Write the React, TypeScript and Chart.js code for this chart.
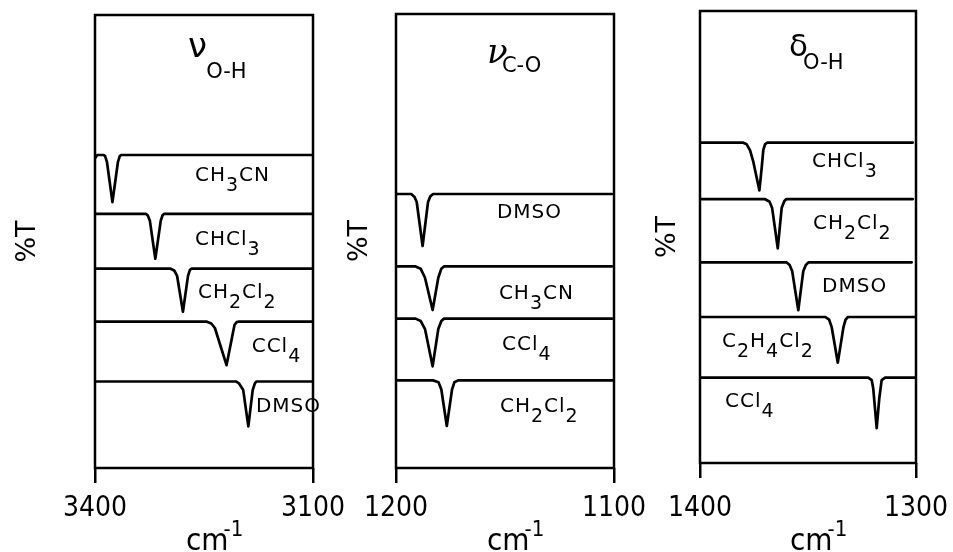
import React, { useEffect, useRef } from 'react';
import { Chart, registerables } from 'chart.js';

Chart.register(...registerables);

// ---------- Panel 1 : ν O-H (3400 → 3100 cm-1) ----------
const P1_TICKS = [3400, 3100];
const P1_CH3CN_X = [3400, 3397, 3388, 3386, 3383.5, 3376, 3368.5, 3366, 3364, 3100];
const P1_CH3CN_Y = [68.4, 69.1, 69.1, 68.8, 67.5, 58.7, 67.5, 68.8, 69.1, 69.1];
const P1_CHCL3_X = [3400, 3330, 3327.5, 3324.5, 3317, 3309.5, 3307, 3305, 3100];
const P1_CHCL3_Y = [56.1, 56.1, 55.8, 54.6, 46.2, 54.6, 55.8, 56.1, 56.1];
const P1_CH2CL2_X = [3400, 3296, 3291, 3287, 3279, 3272, 3269.5, 3267, 3100];
const P1_CH2CL2_Y = [44.0, 44.0, 43.6, 42.4, 34.5, 42.4, 43.7, 44.0, 44.0];
const P1_CCL4_X = [3400, 3246, 3240, 3235, 3219, 3208, 3205, 3203, 3100];
const P1_CCL4_Y = [32.3, 32.3, 31.9, 30.9, 22.7, 31.6, 32.2, 32.3, 32.3];
const P1_DMSO_X = [3400, 3206, 3202, 3196, 3189, 3183, 3180, 3178, 3100];
const P1_DMSO_Y = [19.1, 19.1, 18.7, 17.2, 9.2, 17.2, 18.7, 19.1, 19.1];
const P1_LABELS = ['CH_3CN', 'CHCl_3', 'CH_2Cl_2', 'CCl_4', 'DMSO'];
const P1_LABEL_X = [3262.4, 3262.4, 3258.3, 3184.4, 3178.5];
const P1_LABEL_Y = [63.4, 49.2, 37.6, 25.6, 12.4];

// ---------- Panel 2 : ν C-O (1200 → 1100 cm-1) ----------
const P2_TICKS = [1200, 1100];
const P2_DMSO_X = [1200, 1193, 1191.5, 1190.5, 1187.8, 1185.3, 1184.3, 1183, 1101];
const P2_DMSO_Y = [60.35, 60.35, 59.7, 58.6, 48.9, 58.6, 59.8, 60.35, 60.35];
const P2_CH3CN_X = [1200, 1191, 1188.7, 1186.7, 1183.2, 1180.6, 1179.2, 1178, 1101];
const P2_CH3CN_Y = [44.4, 44.4, 43.9, 41.9, 34.8, 41.9, 43.9, 44.4, 44.4];
const P2_CCL4_X = [1200, 1191, 1188.7, 1186.7, 1183.2, 1180.6, 1179.2, 1178, 1101];
const P2_CCL4_Y = [32.9, 32.9, 32.4, 30.6, 22.4, 30.6, 32.4, 32.9, 32.9];
const P2_CH2CL2_X = [1200, 1183, 1180.5, 1179.2, 1176.7, 1174.3, 1173.2, 1171.5, 1100.5];
const P2_CH2CL2_Y = [19.3, 19.3, 18.9, 17.3, 9.25, 17.3, 18.9, 19.3, 19.3];
const P2_LABELS = ['DMSO', 'CH_3CN', 'CCl_4', 'CH_2Cl_2'];
const P2_LABEL_X = [1153.7, 1152.8, 1151.4, 1152.3];
const P2_LABEL_Y = [55.1, 37.2, 26.0, 12.3];

// ---------- Panel 3 : δ O-H (1400 → 1300 cm-1) ----------
const P3_TICKS = [1400, 1300];
const P3_CHCL3_X = [1400, 1380.2, 1378.4, 1376.85, 1375.3, 1372.5, 1371.4, 1370.7, 1369.9, 1368.8, 1301.5];
const P3_CHCL3_Y = [70.9, 70.9, 70.5, 69.2, 66.6, 60.3, 65.5, 69.2, 70.5, 70.9, 70.9];
const P3_CH2CL2_X = [1400, 1370, 1367.8, 1366.6, 1364, 1362.2, 1361, 1360, 1301.5];
const P3_CH2CL2_Y = [58.4, 58.4, 57.8, 56.4, 47.5, 56.4, 57.9, 58.4, 58.4];
const P3_DMSO_X = [1400, 1360, 1358.5, 1357.3, 1354.5, 1352.2, 1351, 1349.8, 1302];
const P3_DMSO_Y = [44.4, 44.4, 43.8, 42.4, 33.8, 42.4, 43.8, 44.4, 44.4];
const P3_C2H4CL2_X = [1400, 1342, 1340.2, 1339, 1336.2, 1333.6, 1332.6, 1331.5, 1300.5];
const P3_C2H4CL2_Y = [32.3, 32.3, 31.7, 30.0, 22.2, 30.0, 31.7, 32.3, 32.3];
const P3_CCL4_X = [1400, 1322.1, 1320.5, 1319.8, 1318.2, 1317.0, 1315.9, 1314.3, 1300.5];
const P3_CCL4_Y = [18.9, 18.9, 18.35, 16.5, 7.7, 14.3, 18.35, 18.9, 18.9];
const P3_LABELS = ['CHCl_3', 'CH_2Cl_2', 'DMSO', 'C_2H_4Cl_2', 'CCl_4'];
const P3_LABEL_X = [1348.1, 1347.7, 1343.5, 1389.8, 1388.4];
const P3_LABEL_Y = [65.4, 51.7, 37.8, 25.6, 12.4];

const Y_LABEL = '%T';
const X_TITLE = 'cm';
const X_TITLE_SUP = '-1';

const FONT = '"DejaVu Sans", sans-serif';
const TICK_FONT = '"Liberation Sans Narrow", "DejaVu Sans Condensed", sans-serif';

type Title = {
  sym: string; symFont: string; sx: number; sy: number;
  sub: string; ux: number; uy: number;
};

type PanelCfg = {
  canvasLeft: number; canvasWidth: number;
  pad: { left: number; right: number; top: number; bottom: number };
  tickLineHeight: number;
  min: number; max: number; ticks: number[];
  traces: { xs: number[]; ys: number[] }[];
  labels: string[]; labelX: number[]; labelY: number[];
  title: Title;
  pctDx: number; pctY: number;
};

const H = 552;
const AXIS_H = 80;

const PANELS: PanelCfg[] = [
  {
    canvasLeft: 0, canvasWidth: 355,
    pad: { left: 95, right: 42, top: 15, bottom: 4 },
    tickLineHeight: 1.86,
    min: 3100, max: 3400, ticks: P1_TICKS,
    traces: [
      { xs: P1_CH3CN_X, ys: P1_CH3CN_Y },
      { xs: P1_CHCL3_X, ys: P1_CHCL3_Y },
      { xs: P1_CH2CL2_X, ys: P1_CH2CL2_Y },
      { xs: P1_CCL4_X, ys: P1_CCL4_Y },
      { xs: P1_DMSO_X, ys: P1_DMSO_Y },
    ],
    labels: P1_LABELS, labelX: P1_LABEL_X, labelY: P1_LABEL_Y,
    title: { sym: 'ν', symFont: '34px "DejaVu Sans"', sx: 3272, sy: 90.7, sub: 'O-H', ux: 3247, uy: 86.1 },
    pctDx: -67, pctY: 50,
  },
  {
    canvasLeft: 335, canvasWidth: 325,
    pad: { left: 61, right: 46, top: 14, bottom: 4 },
    tickLineHeight: 1.86,
    min: 1100, max: 1200, ticks: P2_TICKS,
    traces: [
      { xs: P2_DMSO_X, ys: P2_DMSO_Y },
      { xs: P2_CH3CN_X, ys: P2_CH3CN_Y },
      { xs: P2_CCL4_X, ys: P2_CCL4_Y },
      { xs: P2_CH2CL2_X, ys: P2_CH2CL2_Y },
    ],
    labels: P2_LABELS, labelX: P2_LABEL_X, labelY: P2_LABEL_Y,
    title: { sym: 'ν', symFont: 'italic 34px "DejaVu Serif"', sx: 1158.3, sy: 89.2, sub: 'C-O', ux: 1151.4, uy: 87.2 },
    pctDx: -36, pctY: 50,
  },
  {
    canvasLeft: 640, canvasWidth: 313,
    pad: { left: 60, right: 37, top: 11, bottom: 9 },
    tickLineHeight: 2.21,
    min: 1300, max: 1400, ticks: P3_TICKS,
    traces: [
      { xs: P3_CHCL3_X, ys: P3_CHCL3_Y },
      { xs: P3_CH2CL2_X, ys: P3_CH2CL2_Y },
      { xs: P3_DMSO_X, ys: P3_DMSO_Y },
      { xs: P3_C2H4CL2_X, ys: P3_C2H4CL2_Y },
      { xs: P3_CCL4_X, ys: P3_CCL4_Y },
    ],
    labels: P3_LABELS, labelX: P3_LABEL_X, labelY: P3_LABEL_Y,
    title: { sym: 'δ', symFont: '31px "DejaVu Sans"', sx: 1358.8, sy: 90.0, sub: 'O-H', ux: 1352.3, uy: 87.1 },
    pctDx: -32, pctY: 50,
  },
];

function drawChem(ctx: CanvasRenderingContext2D, s: string, x: number, y: number, size: number) {
  let cx = x;
  ctx.textAlign = 'left';
  ctx.textBaseline = 'alphabetic';
  for (let i = 0; i < s.length; i++) {
    let ch = s[i];
    let sub = false;
    if (ch === '_') { sub = true; i++; ch = s[i]; }
    ctx.font = `${sub ? Math.round(size * 0.95) : size}px ${FONT}`;
    ctx.fillText(ch, cx, sub ? y + size * 0.5 : y);
    cx += ctx.measureText(ch).width + 1;
  }
}

function makeDecor(p: PanelCfg) {
  return {
    id: 'panelDecor',
    afterDraw(chart: any) {
      const { ctx, chartArea: a, scales } = chart;
      const sx = scales.x;
      const sy = scales.y;
      ctx.save();
      ctx.strokeStyle = '#000';
      ctx.lineWidth = 2.5;
      ctx.strokeRect(a.left, a.top, a.right - a.left, a.bottom - a.top);
      ctx.fillStyle = '#000';
      // title
      ctx.textAlign = 'left';
      ctx.textBaseline = 'alphabetic';
      ctx.font = p.title.symFont;
      ctx.fillText(p.title.sym, sx.getPixelForValue(p.title.sx), sy.getPixelForValue(p.title.sy));
      ctx.font = `21px ${FONT}`;
      ctx.fillText(p.title.sub, sx.getPixelForValue(p.title.ux), sy.getPixelForValue(p.title.uy));
      // trace labels
      p.labels.forEach((lab, i) => {
        drawChem(ctx, lab, sx.getPixelForValue(p.labelX[i]), sy.getPixelForValue(p.labelY[i]), 20);
      });
      // %T
      ctx.save();
      ctx.translate(a.left + p.pctDx, sy.getPixelForValue(p.pctY));
      ctx.rotate(-Math.PI / 2);
      ctx.textAlign = 'center';
      ctx.textBaseline = 'middle';
      ctx.font = `27px ${FONT}`;
      ctx.fillText(Y_LABEL, 0, 0);
      ctx.restore();
      // cm-1
      const cxm = (a.left + a.right) / 2;
      ctx.textAlign = 'left';
      ctx.textBaseline = 'alphabetic';
      ctx.font = `31px ${TICK_FONT}`;
      const cmW = ctx.measureText(X_TITLE).width;
      const x0 = cxm - 18;
      ctx.fillText(X_TITLE, x0, 550);
      ctx.font = `22px ${TICK_FONT}`;
      ctx.fillText(X_TITLE_SUP, x0 + cmW - 5, 536);
      ctx.restore();
    },
  };
}

function Panel({ p }: { p: PanelCfg }) {
  const ref = useRef<HTMLCanvasElement>(null);
  useEffect(() => {
    if (!ref.current) return;
    const chart = new Chart(ref.current, {
      type: 'line',
      data: {
        datasets: p.traces.map((t) => ({
          data: t.xs.map((x, i) => ({ x, y: t.ys[i] })),
          borderColor: '#000',
          borderWidth: 2.7,
          borderJoinStyle: 'round',
          borderCapStyle: 'round',
          pointRadius: 0,
          tension: 0,
          fill: false,
        })),
      },
      options: {
        animation: false,
        responsive: false,
        maintainAspectRatio: false,
        events: [],
        layout: { padding: p.pad },
        plugins: { legend: { display: false }, tooltip: { enabled: false }, title: { display: false } },
        scales: {
          x: {
            type: 'linear',
            min: p.min,
            max: p.max,
            reverse: true,
            afterBuildTicks: (s: any) => { s.ticks = p.ticks.map((v) => ({ value: v })); },
            afterFit: (s: any) => { s.height = AXIS_H; },
            grid: { drawOnChartArea: false, drawTicks: true, tickLength: 15, color: '#000', lineWidth: 2.5 },
            border: { display: false },
            ticks: {
              color: '#000',
              font: { family: TICK_FONT, size: 28, lineHeight: p.tickLineHeight },
              padding: 0,
              maxRotation: 0,
              autoSkip: false,
              callback: (v: any) => String(v),
            },
          },
          y: { type: 'linear', min: 0, max: 100, display: false },
        },
      },
      plugins: [makeDecor(p)],
    } as any);
    return () => chart.destroy();
  }, [p]);
  return (
    <canvas
      ref={ref}
      width={p.canvasWidth}
      height={H}
      style={{ position: 'absolute', left: p.canvasLeft, top: 0, width: p.canvasWidth, height: H }}
    />
  );
}

export default function App() {
  return (
    <div style={{ position: 'fixed', left: 0, top: 0, width: 953, height: H, background: '#fff' }}>
      {PANELS.map((p, i) => <Panel key={i} p={p} />)}
    </div>
  );
}
